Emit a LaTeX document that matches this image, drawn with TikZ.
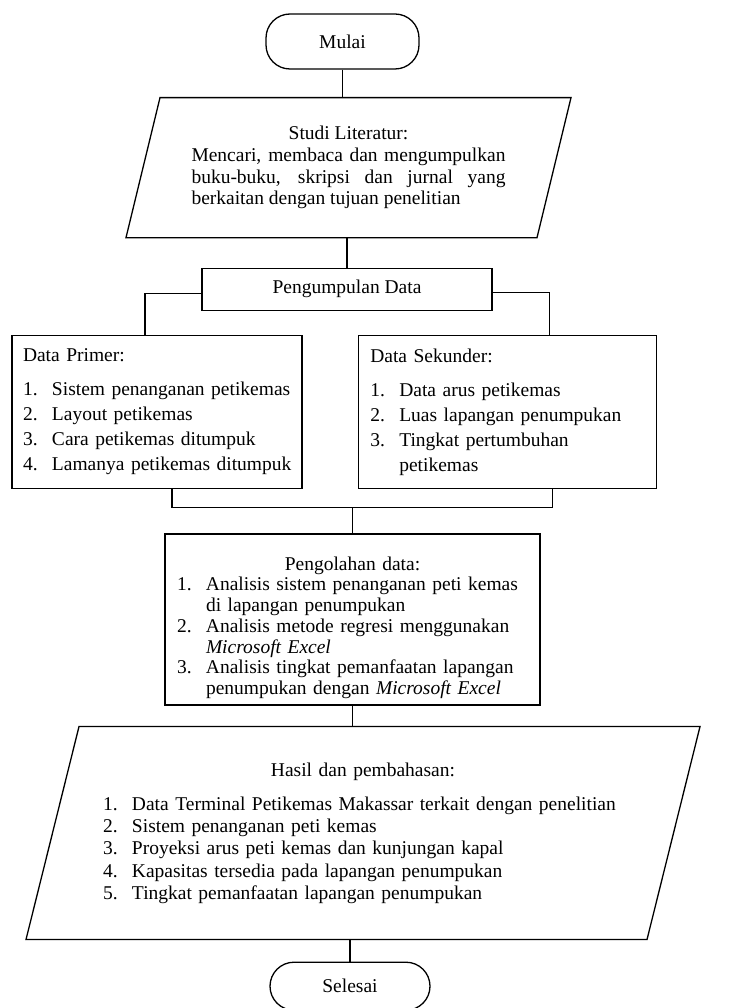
\documentclass[tikz,border=0pt]{standalone}
\usepackage{fontspec}
\setmainfont{Liberation Serif}
\usetikzlibrary{positioning}

\newcommand{\butir}[2]{\mbox{\makebox[29pt][l]{#1.}#2}}
\newcommand{\lanjut}[1]{\mbox{\hspace*{29pt}#1}}

\begin{document}
\begin{tikzpicture}[line width=1.3pt, font=\fontsize{19.5}{21.7}\selectfont]
        \tikzstyle{every node}=[inner ysep=2pt]
        \tikzstyle{terminal}=[draw, rectangle, rounded corners=24pt]
        \tikzstyle{kotak}=[draw, rectangle, align=left, font=\fontsize{19.5}{25}\selectfont]
        \tikzstyle{miring}=[rectangle, outer sep=0pt, align=left]
        \useasboundingbox (0pt,0pt) rectangle (748pt,-1008pt);
        \node[terminal, minimum width=153pt, minimum height=55pt] (mulai) at (342.5pt,-41.5pt) {Mulai};
        \node[miring, text width=314pt, inner xsep=48.5pt, minimum height=140pt, align=justify,
              execute at begin node={\hyphenpenalty=10000 \tolerance=10000 }]
              (studi) [below=28pt of mulai, xshift=6pt]
              {\makebox[\linewidth]{Studi Literatur:}\\ Mencari, membaca dan mengumpulkan buku-buku, skripsi dan jurnal yang berkaitan dengan tujuan penelitian};
        \node[draw, minimum width=290pt, minimum height=42pt] (peng) [below=30pt of studi, xshift=-1.5pt] {Pengumpulan Data};
        \node[kotak, text width=268pt, inner xsep=11pt, minimum height=153pt] (primer) [below=24pt of peng, xshift=-190pt]
              {Data Primer:\\[9pt]
               \butir{1}{Sistem penanganan petikemas}\\
               \butir{2}{Layout petikemas}\\
               \butir{3}{Cara petikemas ditumpuk}\\
               \butir{4}{Lamanya petikemas ditumpuk}};
        \node[kotak, text width=274pt, inner xsep=12pt, minimum height=153pt] (sekunder) [right=55pt of primer]
              {Data Sekunder:\\[9pt]
               \butir{1}{Data arus petikemas}\\
               \butir{2}{Luas lapangan penumpukan}\\
               \butir{3}{Tingkat pertumbuhan}\\
               \lanjut{petikemas}};
        \node[kotak, text width=351pt, inner xsep=12pt, minimum height=171pt, font=\fontsize{19.5}{20.7}\selectfont]
              (olah) [below=44pt of primer, xshift=195.5pt]
              {\rule{0pt}{30pt}\makebox[\linewidth]{Pengolahan data:}\\
               \butir{1}{Analisis sistem penanganan peti kemas}\\
               \lanjut{di lapangan penumpukan}\\
               \butir{2}{Analisis metode regresi menggunakan}\\
               \lanjut{\emph{Microsoft Excel}}\\
               \butir{3}{Analisis tingkat pemanfaatan lapangan}\\
               \lanjut{penumpukan dengan \emph{Microsoft Excel}}};
        \node[miring, text width=520pt, inner xsep=50.5pt, minimum height=213pt, font=\fontsize{19.5}{22.3}\selectfont]
              (hasil) [below=21pt of olah, xshift=10.5pt]
              {\makebox[\linewidth]{Hasil dan pembahasan:}\\[11.7pt]
               \butir{1}{Data Terminal Petikemas Makassar terkait dengan penelitian}\\
               \butir{2}{Sistem penanganan peti kemas}\\
               \butir{3}{Proyeksi arus peti kemas dan kunjungan kapal}\\
               \butir{4}{Kapasitas tersedia pada lapangan penumpukan}\\
               \butir{5}{Tingkat pemanfaatan lapangan penumpukan}};
        \node[terminal, minimum width=160pt, minimum height=48pt] (selesai) [below=22pt of hasil, xshift=-13pt] {Selesai};
        \draw ([xshift=17pt]studi.north west) -- ([xshift=17pt]studi.north east)
              -- ([xshift=-17pt]studi.south east) -- ([xshift=-17pt]studi.south west) -- cycle;
        \draw ([xshift=26.5pt]hasil.north west) -- ([xshift=26.5pt]hasil.north east)
              -- ([xshift=-26.5pt]hasil.south east) -- ([xshift=-26.5pt]hasil.south west) -- cycle;
        \path (olah.north |- primer.south) ++(0pt,-18pt) coordinate (gabung);
        \draw (mulai) -- (mulai |- studi.north);
        \draw (peng) -- (peng |- studi.south);
        \draw ([yshift=-4pt]peng.west) -| ([xshift=-12pt]primer.north);
        \draw ([yshift=-3pt]peng.east) -| ([xshift=42pt]sekunder.north);
        \draw ([xshift=15pt]primer.south) |- (gabung) -| ([xshift=45pt]sekunder.south);
        \draw (gabung) -- (olah);
        \draw (olah) -- (olah |- hasil.north);
        \draw (selesai) -- (selesai |- hasil.south);
      \end{tikzpicture}
\end{document}
